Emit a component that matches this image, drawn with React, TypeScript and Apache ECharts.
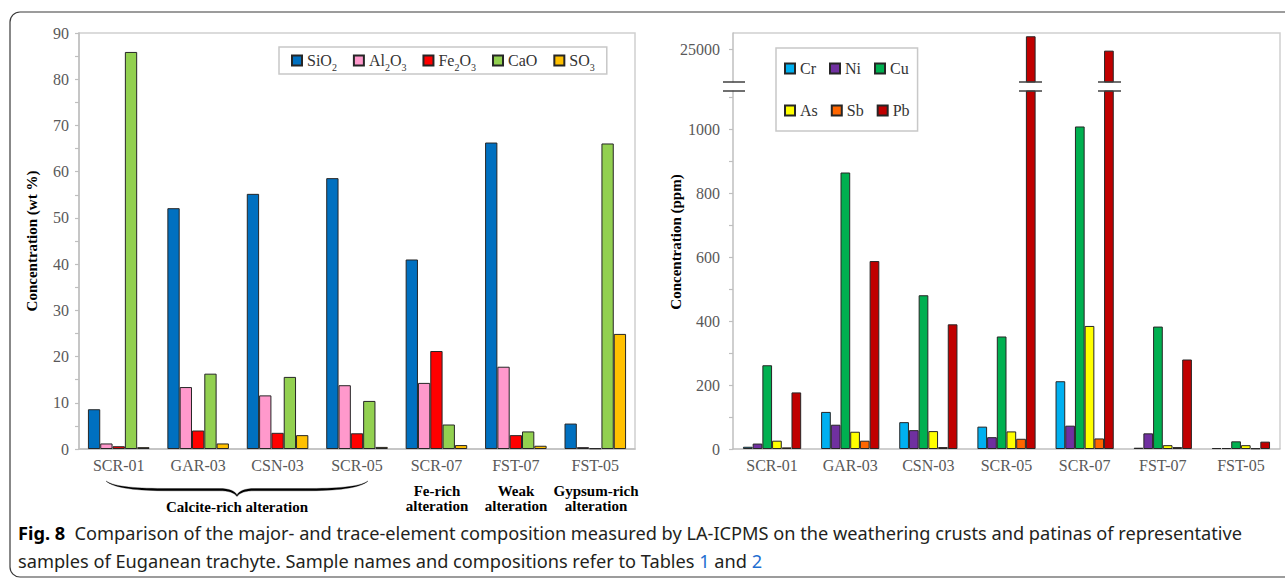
import React, { useEffect, useRef } from 'react';
import * as echarts from 'echarts';

// ---------- data ----------
const samples = ['SCR-01', 'GAR-03', 'CSN-03', 'SCR-05', 'SCR-07', 'FST-07', 'FST-05'];

const majorNames = ['SiO2', 'Al2O3', 'Fe2O3', 'CaO', 'SO3'];
const sio2 = [8.6, 52.1, 55.2, 58.6, 41.0, 66.3, 5.5];
const al2o3 = [1.2, 13.4, 11.6, 13.8, 14.3, 17.8, 0.4];
const fe2o3 = [0.6, 4.0, 3.5, 3.4, 21.2, 3.0, 0.15];
const cao = [85.9, 16.3, 15.6, 10.4, 5.3, 3.8, 66.1];
const so3 = [0.4, 1.2, 3.0, 0.45, 0.85, 0.7, 24.9];
const majorTickLabels = [0, 10, 20, 30, 40, 50, 60, 70, 80, 90];

const traceNames = ['Cr', 'Ni', 'Cu', 'As', 'Sb', 'Pb'];
const cr = [7, 116, 84, 70, 212, 4, 3];
const ni = [17, 76, 59, 37, 73, 49, 3];
const cu = [262, 865, 481, 352, 1009, 383, 24];
const asv = [26, 54, 56, 55, 385, 12, 12];
const sb = [5, 26, 6, 32, 33, 6, 2];
const pb = [177, 588, 390, 27000, 24800, 280, 23];
const traceLowTickLabels = [0, 200, 400, 600, 800, 1000];
const traceHighTickLabels = [25000];

const groupNotes = ['Fe-rich\nalteration', 'Weak\nalteration', 'Gypsum-rich\nalteration'];
const braceNote = 'Calcite-rich alteration';

// ---------- styles ----------
const SERIF = "'Liberation Serif', 'Times New Roman', serif";
const SANS = "'Noto Sans', sans-serif";
const majorColors = ['#0070C0', '#FF99CC', '#FF0000', '#92D050', '#FFC000'];
const traceColors = ['#00B0F0', '#7030A0', '#00B050', '#FFFF00', '#FF6600', '#C00000'];
const AXIS = '#bfbfbf';
const LABEL = '#595959';

const richNames: Record<string, string> = {
  SiO2: '{m|SiO}{s|2}',
  Al2O3: '{m|Al}{s|2}{m|O}{s|3}',
  Fe2O3: '{m|Fe}{s|2}{m|O}{s|3}',
  CaO: '{m|CaO}',
  SO3: '{m|SO}{s|3}',
};

const bracePath =
  'M0,0 C8,6 30,7.5 60,7.5 L108,7.5 C118,7.5 123,10 125,14 C127,10 132,7.5 142,7.5 L190,7.5 C220,7.5 242,6 250,0 ' +
  'C243,7.2 220,9.8 190,9.8 L142,9.8 C133,9.8 128,11.5 125,15.5 C122,11.5 117,9.8 108,9.8 L60,9.8 C30,9.8 7,7.2 0,0 Z';
echarts.graphic.registerShape('brace', echarts.graphic.extendPath(bracePath, {}) as any);

export default function App() {
  const ref = useRef<HTMLDivElement>(null);

  useEffect(() => {
    document.body.style.margin = '0';
    if (!ref.current) return;
    const chart = echarts.init(ref.current, undefined, { renderer: 'svg' });

    const majorData = [sio2, al2o3, fe2o3, cao, so3];
    const traceData = [cr, ni, cu, asv, sb, pb];

    const axisLabel = { color: LABEL, fontSize: 16, fontFamily: SERIF, fontWeight: 'normal' };
    const axisLine = { show: true, lineStyle: { color: AXIS, width: 1.5 } };
    const barItem = (c: string) => ({ color: c, borderColor: '#262626', borderWidth: 1 });

    const series: any[] = [];
    majorNames.forEach((n, i) => {
      series.push({
        type: 'bar', name: n, xAxisIndex: 0, yAxisIndex: 0, data: majorData[i],
        barGap: '0%', barCategoryGap: '22.5%', itemStyle: barItem(majorColors[i]), clip: true,
      });
    });
    traceNames.forEach((n, i) => {
      series.push({
        type: 'bar', name: n, xAxisIndex: 1, yAxisIndex: 1, data: traceData[i],
        barGap: '0%', barCategoryGap: '25.5%', itemStyle: barItem(traceColors[i]), clip: true,
      });
      series.push({
        type: 'bar', name: n, xAxisIndex: 2, yAxisIndex: 2, data: traceData[i],
        barGap: '0%', barCategoryGap: '25.5%', itemStyle: barItem(traceColors[i]), clip: true,
      });
    });

    const breakLine = (x1: number, x2: number, y: number) => ({
      type: 'line', silent: true, z: 100,
      shape: { x1, y1: y, x2, y2: y },
      style: { stroke: '#404040', lineWidth: 1.5 },
    });

    const noteX = [437, 516, 596];

    const option: any = {
      animation: false,
      backgroundColor: '#ffffff',
      textStyle: { fontFamily: SERIF },
      grid: [
        { left: 79, top: 33, width: 556, height: 416, show: true, borderColor: '#d0d0d0', borderWidth: 1.5 },
        { left: 733, top: 91, width: 547, height: 358 },
        { left: 733, top: 33, width: 547, height: 49 },
      ],
      legend: [
        {
          data: majorNames, left: 279, top: 47, itemWidth: 10, itemHeight: 10, itemGap: 16,
          padding: [2, 12, 2, 12], borderColor: '#c8c8c8', borderWidth: 1.5, icon: 'rect',
          backgroundColor: '#fff',
          formatter: (name: string) => richNames[name] || name,
          textStyle: {
            fontFamily: SERIF, fontSize: 16, color: '#333',
            rich: {
              m: { fontFamily: SERIF, fontSize: 16, color: '#333', lineHeight: 18 },
              s: { fontFamily: SERIF, fontSize: 10, color: '#333', lineHeight: 10, padding: [13, 0, 0, 0] },
            },
          },
        },
        {
          data: traceNames, left: 776, top: 48, width: 140, itemWidth: 10, itemHeight: 10, itemGap: 13,
          padding: [6, 8, 6, 8], borderColor: '#c8c8c8', borderWidth: 1.5, icon: 'rect',
          backgroundColor: '#fff',
          textStyle: { fontFamily: SERIF, fontSize: 16, color: '#333', lineHeight: 29 },
        },
      ],
      xAxis: [
        { gridIndex: 0, type: 'category', data: samples, axisLine, axisTick: { show: false }, axisLabel: { ...axisLabel, margin: 8 } },
        { gridIndex: 1, type: 'category', data: samples, axisLine, axisTick: { show: false }, axisLabel: { ...axisLabel, margin: 8 } },
        { gridIndex: 2, type: 'category', data: samples, show: false },
      ],
      yAxis: [
        {
          gridIndex: 0, type: 'value', min: 0, max: 90, interval: 5,
          axisLine, splitLine: { show: false },
          axisTick: { show: true, length: 4, lineStyle: { color: AXIS, width: 1.2 } },
          axisLabel: {
            ...axisLabel, margin: 10,
            formatter: (v: number) => (majorTickLabels.includes(v) ? String(v) : ''),
          },
          name: 'Concentration (wt %)', nameLocation: 'middle', nameGap: 40,
          nameTextStyle: { fontFamily: SERIF, fontWeight: 'bold', fontSize: 15, color: '#000' },
        },
        {
          gridIndex: 1, type: 'value', min: 0, max: 1120, interval: 100,
          axisLine, splitLine: { show: false },
          axisTick: { show: true, length: 4, lineStyle: { color: AXIS, width: 1.2 } },
          axisLabel: {
            ...axisLabel, margin: 13, showMaxLabel: false,
            formatter: (v: number) => (traceLowTickLabels.includes(v) ? String(v) : ''),
          },
        },
        {
          gridIndex: 2, type: 'value', min: 20000, max: 27500, interval: 5000,
          axisLine, splitLine: { show: false },
          axisTick: { show: true, length: 4, customValues: traceHighTickLabels, lineStyle: { color: AXIS, width: 1.2 } },
          axisLabel: {
            ...axisLabel, margin: 13,
            formatter: (v: number) => (traceHighTickLabels.includes(v) ? String(v) : ''),
          },
        },
      ],
      series,
      graphic: [
        {
          type: 'rect', silent: true, z: -1,
          shape: { x: 10, y: 12, width: 1300, height: 565, r: 10 },
          style: { fill: 'none', stroke: '#3a3a3a', lineWidth: 1.2 },
        },
        {
          type: 'polyline', silent: true,
          shape: { points: [[733, 33], [1280, 33], [1280, 449]] },
          style: { fill: 'none', stroke: '#d0d0d0', lineWidth: 1.5 },
        },
        breakLine(723, 745, 82), breakLine(723, 745, 91),
        breakLine(1019, 1042, 82), breakLine(1019, 1042, 91),
        breakLine(1098, 1121, 82), breakLine(1098, 1121, 91),
        {
          type: 'text', silent: true, x: 676, y: 242, rotation: Math.PI / 2,
          style: {
            text: 'Concentration (ppm)', fontFamily: SERIF, fontWeight: 'bold', fontSize: 15,
            fill: '#000', align: 'center', verticalAlign: 'middle',
          },
        },
        {
          type: 'brace', silent: true, x: 106, y: 481, scaleX: 1.048, scaleY: 1,
          style: { fill: '#000', stroke: '#000', lineWidth: 0.3 },
        },
        {
          type: 'text', silent: true, x: 237, y: 507,
          style: {
            text: braceNote, fontFamily: SERIF, fontWeight: 'bold', fontSize: 15, fill: '#000',
            align: 'center', verticalAlign: 'middle',
          },
        },
        ...groupNotes.map((t, i) => ({
          type: 'text', silent: true, x: noteX[i], y: 498,
          style: {
            text: t, fontFamily: SERIF, fontWeight: 'bold', fontSize: 15, fill: '#000', lineHeight: 15,
            align: 'center', verticalAlign: 'middle',
          },
        })),
        {
          type: 'text', silent: true, x: 18, y: 533,
          style: {
            text: '{b|Fig. 8}  {r|Comparison of the major- and trace-element composition measured by LA-ICPMS on the weathering crusts and patinas of representative}',
            fontFamily: SANS, fontSize: 18.2, fill: '#231f20', verticalAlign: 'middle',
            rich: {
              b: { fontFamily: SANS, fontSize: 18.2, fontWeight: 'bold', fill: '#000' },
              r: { fontFamily: SANS, fontSize: 18.2, fill: '#231f20' },
            },
          },
        },
        {
          type: 'text', silent: true, x: 18, y: 561,
          style: {
            text: '{r|samples of Euganean trachyte. Sample names and compositions refer to Tables }{l|1}{r| and }{l|2}',
            fontFamily: SANS, fontSize: 18.2, fill: '#231f20', verticalAlign: 'middle',
            rich: {
              r: { fontFamily: SANS, fontSize: 18.2, fill: '#231f20' },
              l: { fontFamily: SANS, fontSize: 18.2, fill: '#1f6fd1' },
            },
          },
        },
      ],
    };

    chart.setOption(option);
    return () => chart.dispose();
  }, []);

  return <div ref={ref} style={{ width: 1285, height: 580 }} />;
}
